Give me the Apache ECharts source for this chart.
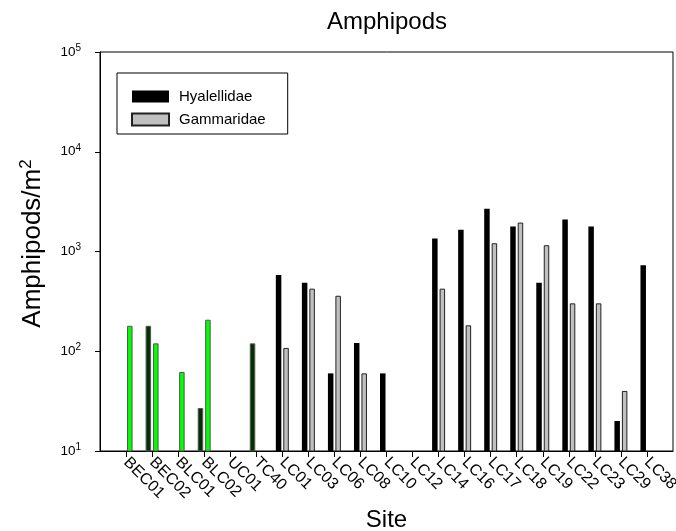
<!DOCTYPE html>
<html><head><meta charset="utf-8">
<script src="https://cdn.jsdelivr.net/npm/echarts@6/dist/echarts.min.js"></script>
<style>html,body{margin:0;padding:0;background:#fff}#c{width:676px;height:531px}</style>
</head><body><div id="c"></div>
<script>
const sites = ['BEC01','BEC02','BLC01','BLC02','UC01','TC40','LC01','LC03','LC06','LC08','LC10','LC12','LC14','LC16','LC17','LC18','LC19','LC22','LC23','LC29','LC38'];
const hyalellidae = [null,180,null,27,null,120,580,486,60,121,60,null,1350,1650,2690,1780,486,2090,1780,20,730];
const gammaridae  = [180,120,62,207,null,null,108,424,360,60,null,null,424,182,1210,1950,1156,302,302,40,null];
const yTicks = [10,100,1000,10000,100000];
const greenSiteCount = 6;

const FONT = 'Liberation Sans, Arial, sans-serif';
function mk(vals, isH){
  const out = [];
  vals.forEach((v,i)=>{
    if (v == null) return;
    const green = i < greenSiteCount;
    out.push({value:[i+1, v], itemStyle: green ? {color: isH ? '#003300' : '#00ff00', borderColor:'#555', borderWidth:1} : undefined});
  });
  return out;
}
const chart = echarts.init(document.getElementById('c'), null, {renderer:'canvas'});
chart.setOption({
  animation:false,
  textStyle:{fontFamily:FONT},
  title:{text:'Amphipods', left:382, top:5, textAlign:'center', textStyle:{fontFamily:FONT, fontSize:24, fontWeight:'normal', color:'#000'}},
  grid:{left:100, right:3, top:52, bottom:80, show:true, borderColor:'#000', borderWidth:1, containLabel:false, outerBoundsMode:'none'},
  legend:{
    orient:'vertical', left:117, top:73, padding:[16,22,7,14], itemGap:8, icon:'rect',
    itemWidth:37, itemHeight:12, borderColor:'#000', borderWidth:1,
    textStyle:{fontFamily:FONT, fontSize:15, color:'#000', padding:[0,0,0,5]},
    data:['Hyalellidae','Gammaridae']
  },
  xAxis:{
    type:'value', min:0, max:sites.length+1, interval:1,
    name:'Site', nameLocation:'middle', nameGap:51,
    nameTextStyle:{fontFamily:FONT, fontSize:24, color:'#000'},
    axisLine:{lineStyle:{color:'#000'}},
    splitLine:{show:false},
    axisTick:{show:true, length:6, customValues: sites.map((s,i)=>i+1), lineStyle:{color:'#000'}},
    axisLabel:{customValues: sites.map((s,i)=>i+1), rotate:-45, margin:9, fontFamily:FONT, fontSize:16, color:'#000',
      formatter:v=>sites[Math.round(v)-1] || ''}
  },
  yAxis:{
    type:'log', logBase:10, min:10, max:100000,
    name:'{a|Amphipods/m}{s|2}', nameLocation:'middle', nameGap:53,
    nameTextStyle:{fontFamily:FONT, color:'#000', padding:[0,0,0,16], rich:{a:{fontSize:26, fontFamily:FONT}, s:{fontSize:17, fontFamily:FONT, padding:[0,0,12,0]}}},
    axisLine:{show:true, lineStyle:{color:'#000'}},
    splitLine:{show:false}, minorTick:{show:false},
    axisTick:{show:true, length:5, lineStyle:{color:'#000'}},
    axisLabel:{margin:19, color:'#000',
      formatter:v=>'{b|10}{s|'+Math.round(Math.log10(v))+'}',
      rich:{b:{fontSize:13.5, fontFamily:FONT}, s:{fontSize:10, fontFamily:FONT, padding:[0,0,8,0]}}}
  },
  series:[
    {name:'Hyalellidae', type:'bar', barWidth:5.5, barGap:'36%', data:mk(hyalellidae,true),
     itemStyle:{color:'#000', borderColor:'#000', borderWidth:0}},
    {name:'Gammaridae', type:'bar', barWidth:5.5, barGap:'36%', data:mk(gammaridae,false),
     itemStyle:{color:'#c0c0c0', borderColor:'#222', borderWidth:1}}
  ]
});
</script></body></html>
